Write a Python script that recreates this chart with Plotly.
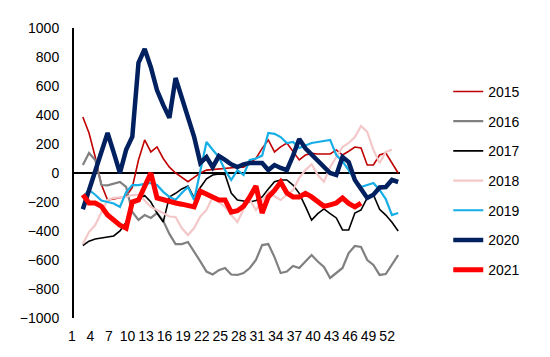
import plotly.graph_objects as go

weeks = list(range(1, 53))
tick_vals = list(range(1, 53, 3))
tick_text = [str(v) for v in tick_vals]
y_ticks = list(range(-1000, 1001, 200))

s2015 = [386, 276, 110, -80, -186, -180, -170, -160, -100, 90, 228, 145, 180, 100, 40, 0, -30, -60, -30, 0,
         20, 25, 28, 30, 35, 40, 40, 70, 100, 170, 228, 145, 180, 207, 150, 90, 124, 135, 131, 131,
         131, 159, 124, 150, 179, 172, 55, 55, 124, 138, 70, 0]
s2016 = [55, 138, 90, -83, -85, -75, -62, -96, -269, -324, -290, -310, -276, -330, -420, -490, -490, -476, -540, -610,
         -680, -700, -670, -655, -700, -703, -690, -655, -600, -497, -490, -580, -690, -680, -641, -655, -610, -566, -610, -648,
         -724, -690, -655, -552, -503, -510, -600, -634, -703, -697, -630, -566]
s2017 = [-500, -470, -455, -448, -441, -434, -400, -340, -207, -180, -155, -200, -276, -338, -165, -140, -110, -90, -172, -100,
         -40, -14, -7, -10, -138, -186, -195, -200, -190, -165, -110, -60, -48, -48, -83, -140, -230, -324, -280, -248,
         -280, -310, -393, -393, -276, -255, -172, -150, -250, -290, -340, -400]
s2018 = [-490, -407, -359, -276, -186, -172, -168, -165, -152, -150, -190, -234, -255, -280, -300, -303, -380, -428, -380, -300,
         -255, -165, -200, -234, -290, -338, -250, -186, -255, -190, -131, -160, -186, -150, -117, -34, 20, 60, -14, -60,
         40, 110, 179, 207, 248, 324, 283, 159, 69, 145, 160, None]
s2019 = [-165, -117, -150, -190, -200, -210, -234, -131, -83, -83, -75, -69, -83, -130, -165, -186, -138, -97, -186, 20,
         214, 160, 110, 20, -48, 20, -14, 90, 100, 120, 276, 270, 248, 207, 214, 172, 190, 207, 214, 220,
         228, 124, 80, 20, -48, -97, -83, -69, -117, -180, -290, -276]
s2020 = [-250, -120, 10, 140, 276, 140, 0, 160, 250, 760, 855, 730, 570, 470, 380, 655, 520, 380, 250, 70,
         110, 40, 117, 90, 60, 41, 60, 69, 69, 69, 20, 55, 35, 20, 120, 234, 170, 130, 90, 40,
         0, -14, 110, 76, -48, -110, -172, -150, -100, -97, -48, -62]
s2021 = [-150, -207, -207, -230, -290, -330, -360, -380, -200, -186, -100, 0, -172, -186, -200, -207, -215, -225, -234, -125,
         -145, -165, -186, -186, -270, -260, -230, -165, -90, -276, -165, -120, -62, -138, -165, -165, -140, -165, -200, -230,
         -220, -207, -172, -210, -234, -207, None, None, None, None, None, None]

series = [
    ("2015", s2015, "#C00000", 1.6),
    ("2016", s2016, "#808080", 2.2),
    ("2017", s2017, "#000000", 1.6),
    ("2018", s2018, "#F4C8C8", 2.2),
    ("2019", s2019, "#16AEE6", 2.2),
    ("2020", s2020, "#002060", 4.5),
    ("2021", s2021, "#FF0000", 5),
]

fig = go.Figure()
for name, vals, color, width in series:
    fig.add_trace(go.Scatter(
        x=weeks, y=vals, name=name, mode="lines", legendgroup=name,
        line=dict(color=color, width=width), connectgaps=False,
    ))

font_family = "Liberation Sans, Arial, sans-serif"
fig.update_layout(
    width=550, height=357,
    margin=dict(l=60, r=158, t=20, b=47),
    paper_bgcolor="white", plot_bgcolor="white",
    font=dict(family=font_family, size=14, color="#000000"),
    showlegend=True,
    legend=dict(
        x=1.148, y=0.835, xanchor="left", yanchor="top",
        font=dict(size=14, color="#000000"),
        tracegroupgap=8.5, traceorder="grouped",
        bgcolor="rgba(0,0,0,0)",
    ),
    xaxis=dict(
        range=[-0.43, 52.3], tickmode="array", tickvals=tick_vals, ticktext=tick_text,
        showgrid=False, zeroline=False, showline=False, ticks="",
        ticklabelshift=-11, ticklabelstandoff=8,
        tickfont=dict(size=14),
    ),
    yaxis=dict(
        range=[-1000, 1000], tickmode="array", tickvals=y_ticks,
        showgrid=False, zeroline=True, zerolinecolor="#000000", zerolinewidth=1.5,
        showline=True, linecolor="#000000", linewidth=2, ticks="",
        ticklabelstandoff=10, tickfont=dict(size=14),
    ),
)

fig.write_html("out.html")
